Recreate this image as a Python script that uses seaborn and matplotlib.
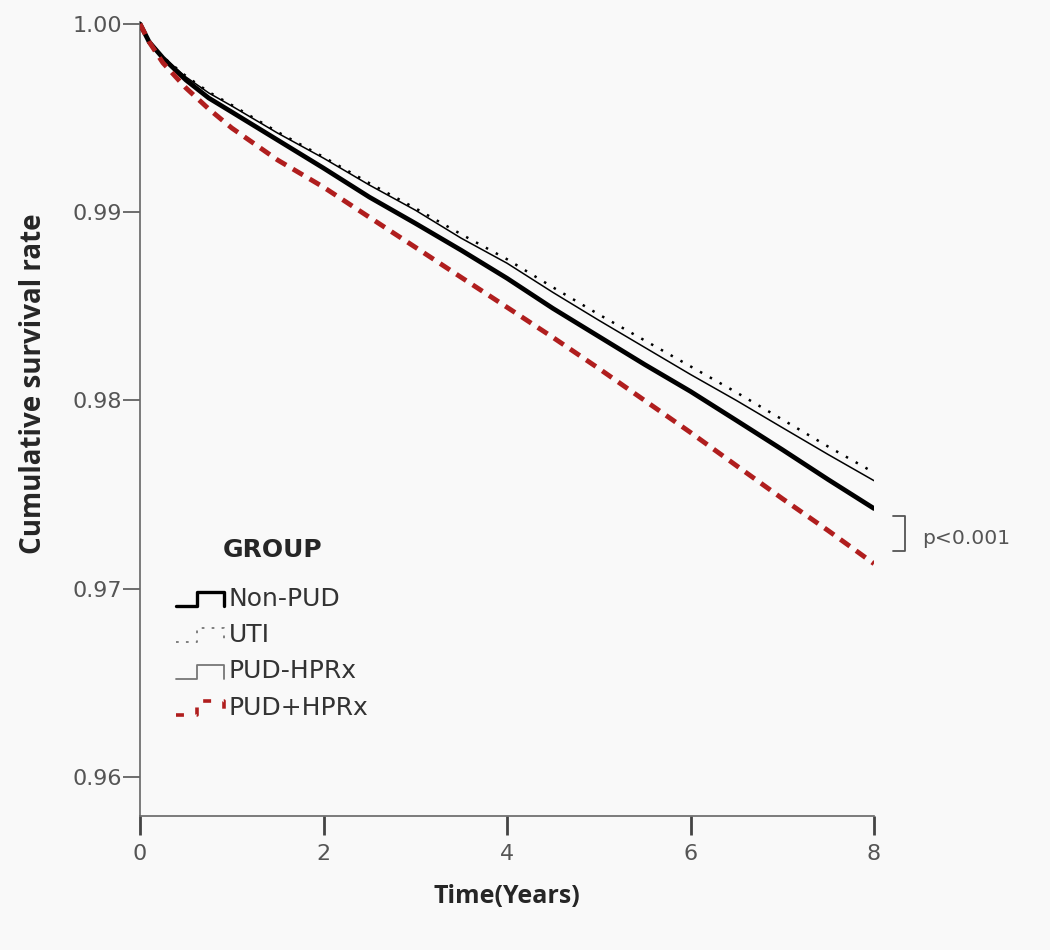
import numpy as np
import pandas as pd
import seaborn as sns
import matplotlib.pyplot as plt
from matplotlib.lines import Line2D
from matplotlib.legend_handler import HandlerBase

# значения (кумулятивная выживаемость по годам)
years = [0, 0.1, 0.25, 0.5, 0.75, 1, 1.5, 2, 2.5, 3, 3.5, 4, 4.5, 5, 5.5, 6, 6.5, 7, 7.5, 8]
non_pud = [1.0, 0.99904, 0.99819, 0.99702, 0.99606, 0.99532, 0.99383, 0.99234, 0.99080, 0.98941,
           0.98798, 0.98649, 0.98489, 0.98340, 0.98191, 0.98048, 0.97894, 0.97739, 0.97580, 0.97426]
uti = [1.0, 0.99904, 0.99824, 0.99723, 0.99638, 0.99569, 0.99426, 0.99293, 0.99154, 0.99021,
       0.98883, 0.98750, 0.98601, 0.98457, 0.98319, 0.98181, 0.98043, 0.97899, 0.97755, 0.97617]
pud_hprx_neg = [1.0, 0.99904, 0.99824, 0.99718, 0.99633, 0.99564, 0.99420, 0.99287, 0.99144, 0.99011,
                0.98862, 0.98729, 0.98574, 0.98426, 0.98282, 0.98138, 0.98000, 0.97856, 0.97713, 0.97574]
pud_hprx_pos = [1.0, 0.99904, 0.99793, 0.99660, 0.99548, 0.99447, 0.99277, 0.99133, 0.98973, 0.98814,
                0.98654, 0.98495, 0.98335, 0.98170, 0.98000, 0.97830, 0.97654, 0.97479, 0.97309, 0.97133]
groups = ['Non-PUD', 'UTI', 'PUD-HPRx', 'PUD+HPRx']
x_ticks = [0, 2, 4, 6, 8]
y_ticks = [0.96, 0.97, 0.98, 0.99, 1.00]

styles = {
    'Non-PUD': dict(color='black', lw=3.4, ls='-'),
    'UTI': dict(color='black', lw=1.8, ls=(0, (1, 3.5))),
    'PUD-HPRx': dict(color='black', lw=1.1, ls='-'),
    'PUD+HPRx': dict(color='#b01e1e', lw=3.5, ls=(0, (2.4, 1.6))),
}
legend_styles = {
    'Non-PUD': dict(color='black', lw=2.4, ls='-'),
    'UTI': dict(color='#777777', lw=1.3, ls=(0, (1.5, 4))),
    'PUD-HPRx': dict(color='#777777', lw=1.3, ls='-'),
    'PUD+HPRx': dict(color='#b01e1e', lw=2.6, ls=(0, (2.2, 3.5))),
}


class StepHandler(HandlerBase):
    # значок-ступенька как в SPSS
    def create_artists(self, legend, orig_handle, xdescent, ydescent, width, height, fontsize, trans):
        xs = np.array([0, 0.45, 0.45, 1.0, 1.0]) * width - xdescent
        ys = np.array([0.0, 0.0, 0.8, 0.8, 0.0]) * height - ydescent
        line = Line2D(xs, ys, transform=trans)
        line.update_from(orig_handle)
        return [line]


sns.set_style('white')
plt.rcParams['font.family'] = ['DejaVu Sans']

fig = plt.figure(figsize=(10.5, 9.5), dpi=100, facecolor='#f9f9f9')
ax = fig.add_axes([140 / 1050, 1 - 816 / 950, 734 / 1050, 794 / 950])
ax.set_facecolor('#f9f9f9')

series = [non_pud, uti, pud_hprx_neg, pud_hprx_pos]
for name, vals in zip(groups, series):
    st = styles[name]
    sns.lineplot(x=years, y=vals, ax=ax, color=st['color'], linewidth=st['lw'],
                 linestyle=st['ls'], errorbar=None, zorder=3 if name != 'PUD+HPRx' else 4)

ax.set_xlim(0, 8)
ax.set_ylim(0.95793, 1.0001)
ax.set_xticks(x_ticks)
ax.set_xticklabels([str(t) for t in x_ticks])
ax.set_yticks(y_ticks)
ax.set_yticklabels([f'{t:.2f}' for t in y_ticks])
sns.despine(ax=ax)
for s in ['left', 'bottom']:
    ax.spines[s].set_color('#666666')
    ax.spines[s].set_linewidth(1.2)
ax.tick_params(axis='y', direction='out', length=12, width=1.2, color='#555555',
               labelsize=16, labelcolor='#555555', pad=1, left=True)
ax.tick_params(axis='x', direction='out', length=14, width=2, color='#444444',
               labelsize=16, labelcolor='#555555', pad=6, bottom=True)

ax.set_xlabel('Time(Years)', fontsize=18, fontweight='bold', family='Open Sans')
ax.set_ylabel('Cumulative survival rate', fontsize=20, fontweight='bold', family='Open Sans')
ax.xaxis.set_label_coords(0.5, -0.086)
ax.yaxis.set_label_coords(-0.126, 0.545)

# скобка и p-value
top = non_pud[-1] - 0.0004
bot = pud_hprx_pos[-1] + 0.0007
ax.plot([8.21, 8.34, 8.34, 8.21], [top, top, bot, bot], color='#555555', lw=1.3, clip_on=False)
ax.text(8.52, (top + bot) / 2 - 0.0003, 'p<0.001', fontsize=14.6, color='#555555',
        va='center', ha='left', clip_on=False)

handles = [Line2D([], [], **legend_styles[g]) for g in groups]
leg = ax.legend(handles, groups, title='GROUP', frameon=False, fontsize=18,
                handler_map={h: StepHandler() for h in handles},
                loc='upper left', bbox_to_anchor=(176 / 1050, 1 - 538 / 950),
                bbox_transform=fig.transFigure, borderpad=0, borderaxespad=0,
                handlelength=1.9, handletextpad=0.2, labelspacing=0.49)
leg.get_title().set_fontweight('bold')
leg.get_title().set_fontsize(18)
leg._legend_box.sep = 18
for t in leg.get_texts():
    t.set_color('#333333')

fig.savefig('out.png', dpi=100, facecolor=fig.get_facecolor())
